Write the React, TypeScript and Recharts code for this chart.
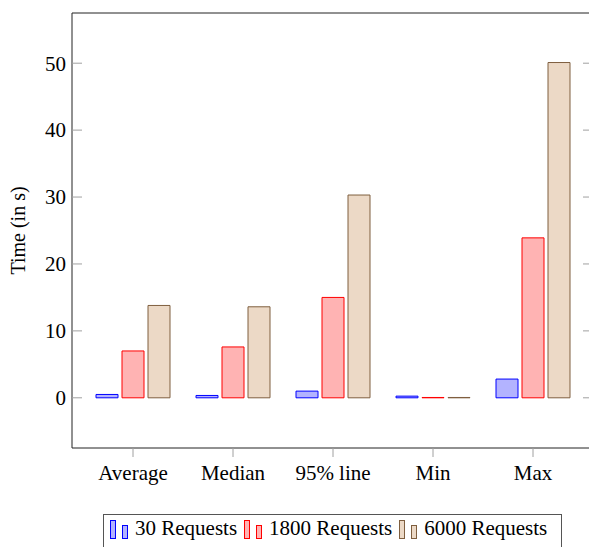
import { BarChart, Bar, XAxis, YAxis } from "recharts";

const categories = ["Average", "Median", "95% line", "Min", "Max"];
const req30 = [0.5, 0.35, 1.0, 0.25, 2.8];
const req1800 = [7.0, 7.6, 15.0, 0.05, 23.9];
const req6000 = [13.8, 13.6, 30.3, 0.05, 50.1];
const yTicks = [0, 10, 20, 30, 40, 50];

const series = [
  { key: "r30", name: "30 Requests", stroke: "#0000ff", fill: "#b3b3ff" },
  { key: "r1800", name: "1800 Requests", stroke: "#ff0000", fill: "#ffb3b3" },
  { key: "r6000", name: "6000 Requests", stroke: "#7f5f3f", fill: "#ecd9c6" },
];

const data = categories.map((name, i) => ({
  name,
  r30: req30[i],
  r1800: req1800[i],
  r6000: req6000[i],
}));

const serif = "'Liberation Serif', 'DejaVu Serif', serif";
const tickGray = "#a0a0a0";
const frame = "#222";

function LeftTick(props: any) {
  const { x, y, payload } = props;
  return (
    <g>
      <line x1={x + 6} x2={x + 16} y1={y} y2={y} stroke={tickGray} />
      <text x={x} y={y} dy="0.35em" textAnchor="end" fontSize={21} fontFamily={serif} fill="#000">
        {payload.value}
      </text>
    </g>
  );
}

function RightTick(props: any) {
  const { x, y } = props;
  return <line x1={x - 10} x2={x} y1={y} y2={y} stroke={tickGray} />;
}

function BottomTick(props: any) {
  const { x, y, payload } = props;
  return (
    <text x={x} y={y} dy="0.71em" textAnchor="middle" fontSize={21} fontFamily={serif} fill="#000">
      {payload.value}
    </text>
  );
}

function YLabel(props: any) {
  const { viewBox } = props;
  const cx = 25;
  const cy = viewBox.y + viewBox.height / 2;
  return (
    <text
      x={cx}
      y={cy}
      transform={`rotate(-90, ${cx}, ${cy})`}
      textAnchor="middle"
      fontSize={20}
      fontFamily={serif}
      fill="#000"
    >
      Time (in s)
    </text>
  );
}

function LegendIcon({ stroke, fill }: { stroke: string; fill: string }) {
  return (
    <svg width={22} height={22} style={{ display: "block" }}>
      <rect x={1.5} y={3.5} width={5} height={18} stroke={stroke} fill={fill} />
      <rect x={13.5} y={8.5} width={5} height={13} stroke={stroke} fill={fill} />
    </svg>
  );
}

export default function App() {
  return (
    <div style={{ position: "relative", width: 589, height: 547, overflow: "hidden", background: "#fff" }}>
      <style>{`body{margin:0}`}</style>
      <BarChart
        width={600}
        height={505}
        data={data}
        margin={{ top: 0, right: 0, bottom: 0, left: 0 }}
        barSize={22}
        barGap={4}
      >
        <XAxis
          xAxisId="top"
          orientation="top"
          dataKey="name"
          height={13}
          padding={{ left: 11, right: 10 }}
          axisLine={{ stroke: frame }}
          tickLine={{ stroke: tickGray }}
          tickSize={9}
          tick={false}
        />
        <XAxis
          dataKey="name"
          height={57}
          padding={{ left: 11, right: 10 }}
          axisLine={{ stroke: frame }}
          tickLine={{ stroke: tickGray }}
          tickSize={9}
          tickMargin={8}
          tick={<BottomTick />}
          interval={0}
        />
        <YAxis
          width={72}
          domain={[-7.5, 57.5]}
          ticks={yTicks}
          allowDataOverflow
          axisLine={{ stroke: frame }}
          tickLine={false}
          tickSize={0}
          tickMargin={6}
          tick={<LeftTick />}
          label={<YLabel />}
        />
        <YAxis
          yAxisId="right"
          orientation="right"
          width={7}
          domain={[-7.5, 57.5]}
          ticks={yTicks}
          allowDataOverflow
          axisLine={{ stroke: frame }}
          tickLine={false}
          tickSize={0}
          tickMargin={0}
          tick={<RightTick />}
        />
        {series.map((s) => (
          <Bar
            key={s.key}
            dataKey={s.key}
            name={s.name}
            stroke={s.stroke}
            fill={s.fill}
            strokeWidth={1}
            isAnimationActive={false}
          />
        ))}
      </BarChart>
      <div
        style={{
          position: "absolute",
          left: 103,
          top: 514,
          width: 459,
          height: 40,
          border: "1px solid #555",
          display: "flex",
          alignItems: "flex-start",
          paddingLeft: 5,
          paddingTop: 2,
          boxSizing: "border-box",
          fontFamily: serif,
          fontSize: 21,
          color: "#000",
          whiteSpace: "nowrap",
        }}
      >
        {series.map((s) => (
          <div key={s.key} style={{ display: "flex", alignItems: "flex-end", marginRight: 6 }}>
            <LegendIcon stroke={s.stroke} fill={s.fill} />
            <span style={{ marginLeft: 4, lineHeight: "22px" }}>{s.name}</span>
          </div>
        ))}
      </div>
    </div>
  );
}
